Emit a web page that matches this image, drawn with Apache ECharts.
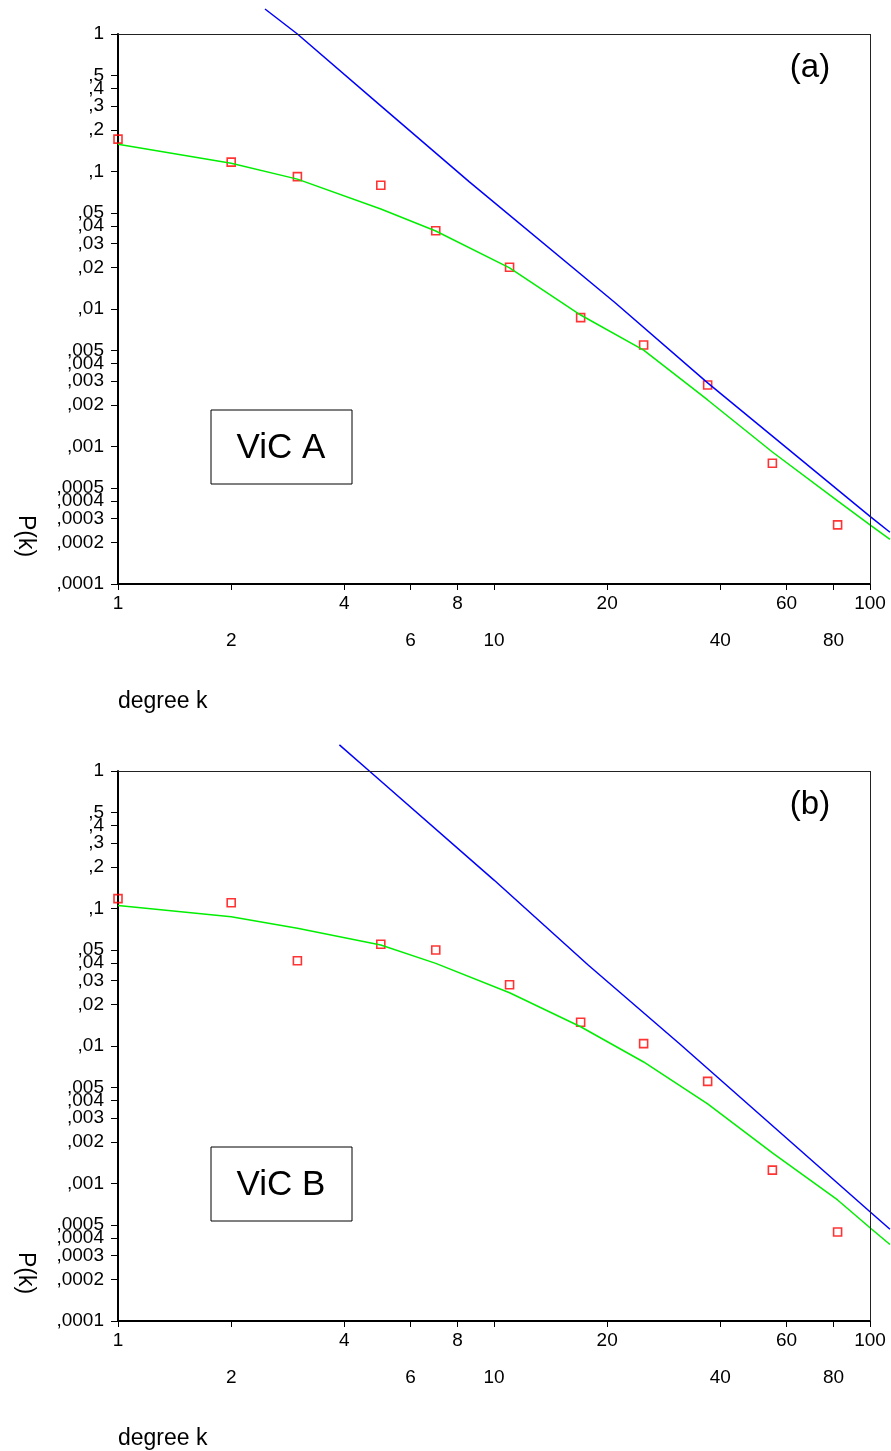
<!DOCTYPE html>
<html>
<head>
<meta charset="utf-8">
<script src="https://cdn.jsdelivr.net/npm/echarts@6/dist/echarts.min.js"></script>
<style>
  html, body { margin: 0; padding: 0; background: #fff; }
  #chart { width: 891px; height: 1451px; }
</style>
</head>
<body>
<div id="chart"></div>
<script>
// observed degree distribution, log-binned k
const degrees = [1, 2, 3, 5, 7, 11, 17, 25, 37, 55, 82];
const probA = [0.172, 0.117, 0.0917, 0.0794, 0.0371, 0.0201, 0.00865, 0.00547, 0.0028, 0.000755, 0.000269];
const probB = [0.118, 0.110, 0.0417, 0.0549, 0.0499, 0.0279, 0.0149, 0.0104, 0.00553, 0.00125, 0.000444];

// green fitted curve
const fitK = [1, 2, 3, 5, 7, 11, 17, 25, 37, 55, 82, 100, 113];
const fitA = [0.158, 0.115, 0.088, 0.0534, 0.0369, 0.0199, 0.00904, 0.00503, 0.00218, 0.000912, 0.000402, 0.000269, 0.000211];
const fitB = [0.105, 0.0871, 0.0718, 0.0543, 0.0399, 0.0244, 0.0138, 0.00765, 0.00379, 0.00167, 0.000759, 0.000477, 0.000360];

// blue power-law line
const powKA = [2.46, 3, 5, 8.6, 21, 37, 100, 113];
const powA = [1.52, 1.0, 0.30, 0.084, 0.0111, 0.0029, 0.00031, 0.000238];
const powKB = [3.88, 4.66, 10, 17.8, 31.2, 100, 113];
const powB = [1.55, 1.0, 0.161, 0.0388, 0.01035, 0.000623, 0.000465];

// tick marks and labels
const xTicks = [1, 2, 4, 6, 8, 10, 20, 40, 60, 80, 100];
const xTickLabels = ['1', '2', '4', '6', '8', '10', '20', '40', '60', '80', '100'];
const yTicks = [1, 0.5, 0.4, 0.3, 0.2, 0.1, 0.05, 0.04, 0.03, 0.02, 0.01,
  0.005, 0.004, 0.003, 0.002, 0.001, 0.0005, 0.0004, 0.0003, 0.0002, 0.0001];
const yTickLabels = ['1', ',5', ',4', ',3', ',2', ',1', ',05', ',04', ',03', ',02', ',01',
  ',005', ',004', ',003', ',002', ',001', ',0005', ',0004', ',0003', ',0002', ',0001'];

const FONT = 'Liberation Sans, Arial, sans-serif';
const lg = Math.log10;
// grid runs to the page edge so the fitted lines can leave the frame;
// 376 px per decade keeps k=100 at x=870
const GRID_W = 773;
const X_MAX = 2 * GRID_W / 752;

function nearest(arr, v) {
  let best = 0;
  arr.forEach((t, j) => { if (Math.abs(lg(t) - v) < Math.abs(lg(arr[best]) - v)) best = j; });
  return best;
}

function pairs(ks, ps) {
  return ks.map((k, j) => [lg(k), lg(ps[j])]);
}

const panels = [
  { top: 34, tag: '(a)', box: 'ViC A', probs: probA, fit: fitA, powK: powKA, pow: powA },
  { top: 771, tag: '(b)', box: 'ViC B', probs: probB, fit: fitB, powK: powKB, pow: powB }
];

const grid = [], xAxis = [], yAxis = [], series = [], graphic = [];

panels.forEach((p, i) => {
  grid.push({ left: 118, width: GRID_W, top: p.top, height: 550 });
  xAxis.push({
    gridIndex: i, type: 'value', min: 0, max: X_MAX, position: 'bottom',
    axisLine: { show: false, onZero: false },
    axisTick: { show: true, inside: false, customValues: xTicks.map(lg), length: 6, lineStyle: { color: '#000', width: 1 } },
    axisLabel: {
      customValues: xTicks.map(lg), margin: 1,
      color: '#000', fontFamily: FONT, fontSize: 19, lineHeight: 37,
      formatter: v => {
        const j = nearest(xTicks, v);
        return j % 2 ? '\n' + xTickLabels[j] : xTickLabels[j];
      }
    },
    splitLine: { show: false }
  });
  yAxis.push({
    gridIndex: i, type: 'value', min: -4, max: 0, position: 'left',
    axisLine: { onZero: false, lineStyle: { color: '#000', width: 2 } },
    axisTick: { inside: false, customValues: yTicks.map(lg), length: 7, lineStyle: { color: '#000', width: 1 } },
    axisLabel: {
      customValues: yTicks.map(lg), margin: 14,
      color: '#000', fontFamily: FONT, fontSize: 19,
      formatter: v => yTickLabels[nearest(yTicks, v)]
    },
    splitLine: { show: false }
  });

  series.push({
    type: 'line', xAxisIndex: i, yAxisIndex: i, clip: false,
    data: pairs(fitK, p.fit), showSymbol: false, silent: true,
    lineStyle: { color: '#00ee00', width: 1.5 }
  });
  series.push({
    type: 'line', xAxisIndex: i, yAxisIndex: i, clip: false,
    data: pairs(p.powK, p.pow), showSymbol: false, silent: true,
    lineStyle: { color: '#0000ff', width: 1.5 }
  });
  series.push({
    type: 'scatter', xAxisIndex: i, yAxisIndex: i, clip: false,
    data: pairs(degrees, p.probs), symbol: 'rect', symbolSize: 8,
    itemStyle: { color: 'rgba(255,255,255,0)', borderColor: '#ff0000', borderWidth: 1.6 },
    // frame of the plot: bottom axis line, top and right borders ending at k=100
    markLine: {
      silent: true, symbol: 'none', label: { show: false }, animation: false,
      data: [
        [{ coord: [0, -4], lineStyle: { width: 2, color: '#000' } }, { coord: [2, -4] }],
        [{ coord: [0, 0], lineStyle: { width: 1, color: '#222' } }, { coord: [2, 0] }],
        [{ coord: [2, -4], lineStyle: { width: 1, color: '#222' } }, { coord: [2, 0] }]
      ],
      lineStyle: { type: 'solid' }
    }
  });

  const off = p.top - 34;
  graphic.push(
    { type: 'text', x: 810, y: 68 + off, style: { text: p.tag, fontSize: 33, fontFamily: FONT, fill: '#000', align: 'center', verticalAlign: 'middle' } },
    { type: 'rect', shape: { x: 211, y: 410 + off, width: 141, height: 74 }, style: { fill: '#fff', stroke: '#000', lineWidth: 1 } },
    { type: 'text', x: 281, y: 448 + off, style: { text: p.box, fontSize: 35, fontFamily: FONT, fill: '#000', align: 'center', verticalAlign: 'middle' } },
    { type: 'text', x: 25, y: 536 + off, rotation: -Math.PI / 2, style: { text: 'P(k)', fontSize: 23, fontFamily: FONT, fill: '#000', align: 'center', verticalAlign: 'middle' } },
    { type: 'text', x: 118, y: 702 + off, style: { text: 'degree k', fontSize: 23, fontFamily: FONT, fill: '#000', align: 'left', verticalAlign: 'middle' } }
  );
});

const chart = echarts.init(document.getElementById('chart'));
chart.setOption({
  animation: false,
  backgroundColor: '#fff',
  grid, xAxis, yAxis, series, graphic
});
</script>
</body>
</html>
